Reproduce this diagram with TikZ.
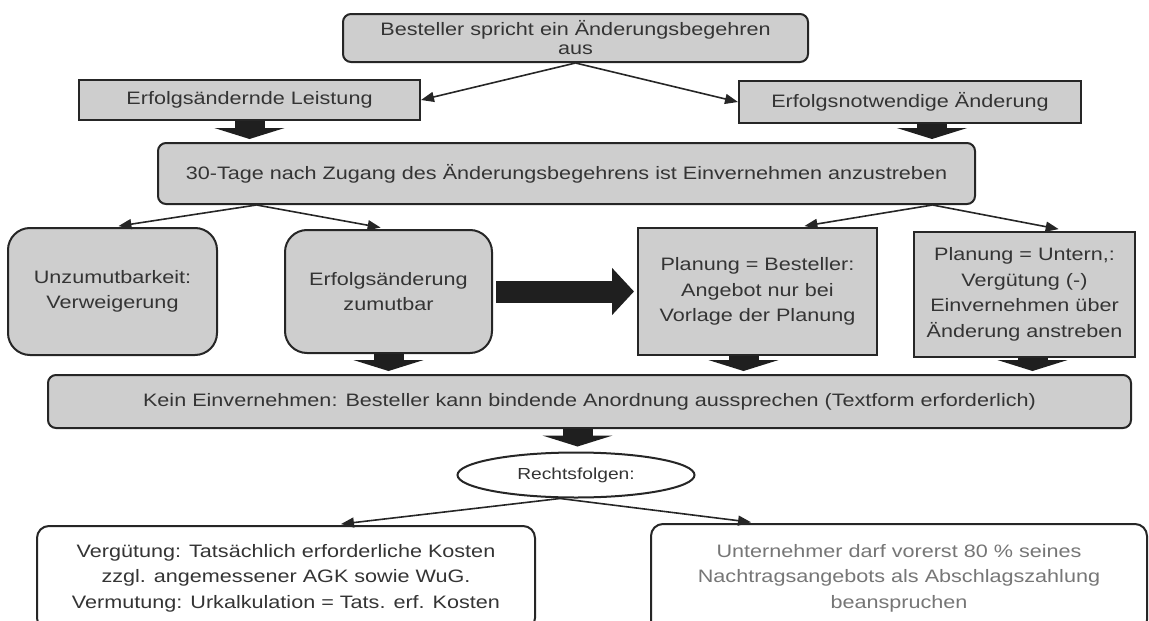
\documentclass[tikz,border=0pt]{standalone}
\usepackage{fontspec}
\setmainfont[FakeStretch=1.2]{Liberation Sans}
\usetikzlibrary{arrows.meta,shapes.geometric,positioning}

\definecolor{boxgray}{RGB}{206,206,206}
\definecolor{linec}{RGB}{38,38,38}
\definecolor{textc}{RGB}{52,52,52}
\definecolor{lighttext}{RGB}{118,118,118}

\begin{document}
\begin{tikzpicture}[x=1pt,y=-1pt,
    box/.style={draw=linec,fill=boxgray,line width=2pt,text=textc,align=center,
      inner sep=0pt,font=\fontsize{18}{25.5}\selectfont},
    rbox/.style={box,rounded corners=8pt},
    softbox/.style={box,rounded corners=22pt},
    whitebox/.style={box,fill=white,rounded corners=12pt},
    arr/.style={draw=linec,line width=1.6pt,-{Triangle[length=13pt,width=10pt]}},
    downarr/.style={draw=black!88,line width=30pt,-{Triangle[length=11pt,width=70pt]},shorten >=3pt},
    rightarr/.style={draw=black!88,line width=22pt,-{Triangle[length=22pt,width=46pt]},shorten <=3pt,shorten >=3pt}]
        \useasboundingbox (0,0) rectangle (1149,621);
        \clip (0,0) rectangle (1149,621);

        \node[rbox,minimum width=465pt,minimum height=48pt,font=\fontsize{18}{19}\selectfont]
            at (575.5,38) (top) {Besteller spricht ein Änderungsbegehren\\aus};
        \node[box,minimum width=341pt,minimum height=40pt] at (249.5,100) (leist) {Erfolgsändernde Leistung};
        \node[box,minimum width=342pt,minimum height=42pt] at (910,102) (notw) {Erfolgsnotwendige Änderung};
        \node[rbox,minimum width=817pt,minimum height=61pt] at (566.5,173.5) (tage)
            {30-Tage nach Zugang des Änderungsbegehrens ist Einvernehmen anzustreben};

        \node[softbox,minimum width=209pt,minimum height=127pt] at (112.5,291.5) (unzu)
            {Unzumutbarkeit:\\Verweigerung};
        \node[softbox,minimum width=207pt,minimum height=123pt] at (388.5,291.5) (erfz)
            {Erfolgsänderung\\zumutbar};
        \node[box,minimum width=239pt,minimum height=127pt] at (757.5,291.5) (pbes)
            {Planung = Besteller:\\Angebot nur bei\\Vorlage der Planung};
        \node[box,minimum width=221pt,minimum height=125pt] at (1024.5,294.5) (punt)
            {Planung = Untern,:\\Vergütung (-)\\Einvernehmen über\\Änderung anstreben};

        \node[rbox,minimum width=1083pt,minimum height=53pt] at (589.5,401.5) (kein)
            {Kein Einvernehmen: Besteller kann bindende Anordnung aussprechen (Textform erforderlich)};
        \node[ellipse,draw=linec,line width=2pt,fill=white,text=textc,inner sep=0pt,
            minimum width=237pt,minimum height=45pt,font=\fontsize{16}{18}\selectfont]
            at (576,475) (rf) {Rechtsfolgen:};

        \node[whitebox,minimum width=498pt,minimum height=104pt] at (286,578) (verg)
            {Vergütung: Tatsächlich erforderliche Kosten\\zzgl. angemessener AGK sowie WuG.\\Vermutung: Urkalkulation = Tats. erf. Kosten};
        \node[whitebox,text=lighttext,minimum width=496pt,minimum height=108pt] at (899,578) (unt)
            {Unternehmer darf vorerst 80 \% seines\\Nachtragsangebots als Abschlagszahlung\\beanspruchen};

        % duenne Pfeile
        \draw[arr] (top.south) -- (leist.east);
        \draw[arr] (top.south) -- (notw.west);
        \draw[arr,shorten >=6pt] ([xshift=-310pt]tage.south) -- (unzu.north);
        \draw[arr,shorten >=8pt] ([xshift=-310pt]tage.south) -- (erfz.north);
        \draw[arr,shorten >=6pt] ([xshift=366pt]tage.south) -- ([xshift=41pt]pbes.north);
        \draw[arr,shorten >=10pt] ([xshift=366pt]tage.south) -- ([xshift=44pt]punt.north);
        \draw[arr,shorten >=8pt] ([xshift=-16pt]rf.south) -- ([xshift=47pt]verg.north);
        \draw[arr,shorten >=6pt] ([xshift=-16pt]rf.south) -- ([xshift=-142pt]unt.north);

        % Blockpfeile
        \draw[downarr] (leist.south) -- (leist.south |- tage.north);
        \draw[downarr] ([xshift=22pt]notw.south) -- ([xshift=22pt]notw.south |- tage.north);
        \draw[rightarr] (erfz.east) -- (pbes.west);
        \draw[downarr] (erfz.south) -- (erfz.south |- kein.north);
        \draw[downarr] ([xshift=-14pt]pbes.south) -- ([xshift=-14pt]pbes.south |- kein.north);
        \draw[downarr] ([xshift=8pt]punt.south) -- ([xshift=8pt]punt.south |- kein.north);
        \draw[downarr,shorten >=5pt] ([xshift=-12pt]kein.south) -- ([xshift=-12pt]kein.south |- rf.north);
\end{tikzpicture}
\end{document}
